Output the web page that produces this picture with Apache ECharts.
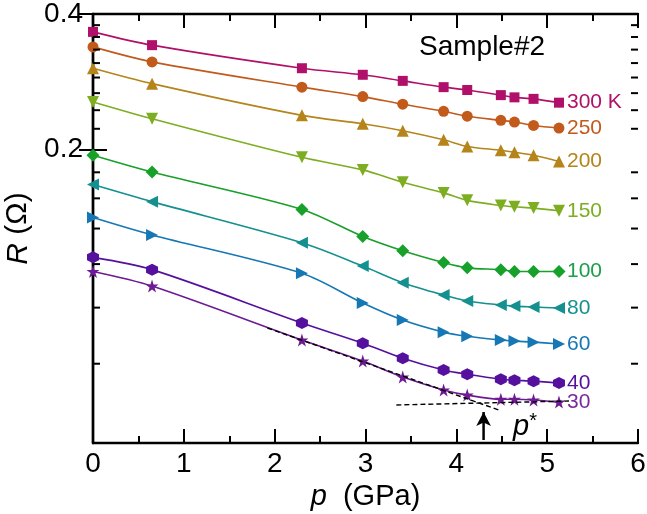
<!DOCTYPE html>
<html><head><meta charset="utf-8">
<script src="https://cdn.jsdelivr.net/npm/echarts@6/dist/echarts.min.js"></script>
<style>html,body{margin:0;padding:0;background:#fff}#c{width:647px;height:514px}</style>
</head><body><div id="c"></div>
<script>
const pressure = [0, 0.65, 2.3, 2.97, 3.41, 3.86, 4.12, 4.49, 4.64, 4.85, 5.13];
const tempLabels = ['300 K', '250', '200', '150', '100', '80', '60', '40', '30'];
const r300 = [0.365, 0.341, 0.303, 0.293, 0.284, 0.275, 0.271, 0.264, 0.261, 0.259, 0.254];
const r250 = [0.338, 0.313, 0.275, 0.262, 0.252, 0.243, 0.237, 0.232, 0.230, 0.226, 0.223];
const r200 = [0.303, 0.280, 0.238, 0.228, 0.220, 0.210, 0.203, 0.199, 0.197, 0.194, 0.188];
const r150 = [0.255, 0.234, 0.192, 0.180, 0.169, 0.160, 0.154, 0.150, 0.149, 0.148, 0.146];
const r100 = [0.194, 0.178, 0.147, 0.128, 0.119, 0.112, 0.109, 0.108, 0.107, 0.107, 0.107];
const r80  = [0.167, 0.153, 0.124, 0.110, 0.101, 0.0948, 0.0920, 0.0901, 0.0896, 0.0892, 0.0887];
const r60  = [0.141, 0.129, 0.106, 0.0910, 0.0834, 0.0784, 0.0768, 0.0753, 0.0749, 0.0745, 0.0738];
const r40  = [0.115, 0.108, 0.0822, 0.0741, 0.0686, 0.0646, 0.0632, 0.0616, 0.0613, 0.0610, 0.0604];
const r30  = [0.107, 0.0993, 0.0753, 0.0676, 0.0623, 0.0583, 0.0568, 0.0556, 0.0556, 0.0554, 0.0548];
const xTicks = [0, 1, 2, 3, 4, 5, 6];
const yMajorTicks = [0.2, 0.4];
const yMinorTicks = [0.0667, 0.0889, 0.1111, 0.1333, 0.1556, 0.1778, 0.2222, 0.2444, 0.2667, 0.2889, 0.3111, 0.3333, 0.3556, 0.3778];
const fitLineSteep = [[1.92, 0.0801], [4.47, 0.0526]];
const fitLineFlat = [[3.34, 0.0540], [5.24, 0.0551]];
const arrowLine = [[4.30, 0.0451], [4.30, 0.0521]];

const colors = ['#B0106A', '#C25A1C', '#B5841A', '#7DAE22', '#17A02A', '#13908F', '#1677B5', '#55119E', '#6E1A92'];
const labelColors = ['#B0106A', '#C25A1C', '#B5841A', '#7DAE22', '#1C9E4A', '#13908F', '#1677B5', '#55119E', '#7A2A9A'];
const STAR = 'path://M50,0 L61.8,35.4 L100,35.4 L69.1,57.3 L80.9,92.7 L50,70.8 L19.1,92.7 L30.9,57.3 L0,35.4 L38.2,35.4 Z';
const HEX = 'path://M50,0 L93.3,25 L93.3,75 L50,100 L6.7,75 L6.7,25 Z';
const symbols = [
  {s: 'rect', r: 0, z: 10}, {s: 'circle', r: 0, z: 11}, {s: 'triangle', r: 0, z: 12},
  {s: 'triangle', r: 180, z: 12}, {s: 'diamond', r: 0, z: 13}, {s: 'triangle', r: 90, z: 12},
  {s: 'triangle', r: -90, z: 12}, {s: HEX, r: 0, z: 12}, {s: STAR, r: 0, z: 13}
];
const allR = [r300, r250, r200, r150, r100, r80, r60, r40, r30];
const FONT = 'Liberation Sans';
const YMIN = 0.04444, YMAX = 0.4;

const series = allR.map((arr, i) => ({
  type: 'line',
  name: tempLabels[i],
  data: pressure.map((p, j) => [p, arr[j]]),
  smooth: 0.3,
  symbol: symbols[i].s,
  symbolRotate: symbols[i].r,
  symbolSize: symbols[i].z,
  showSymbol: true,
  color: colors[i],
  lineStyle: {width: 1.6, color: colors[i]},
  itemStyle: {color: colors[i]},
  endLabel: {show: true, formatter: tempLabels[i], color: labelColors[i], fontSize: 21, fontFamily: FONT, distance: 8},
  z: 3,
  animation: false
}));
series.push({
  type: 'line', data: fitLineSteep, symbol: 'none', z: 5, animation: false,
  lineStyle: {color: '#000', width: 1.4, type: [5, 3]}
});
series.push({
  type: 'line', data: fitLineFlat, symbol: 'none', z: 5, animation: false,
  lineStyle: {color: '#000', width: 1.4, type: [5, 3]}
});
series.push({
  type: 'line', animation: false, z: 6, showSymbol: true,
  data: [{value: arrowLine[0], symbol: 'none'}, {value: arrowLine[1], symbol: 'arrow', symbolSize: [11, 14]}],
  lineStyle: {color: '#000', width: 2.5}, itemStyle: {color: '#000'}
});
// minor ticks on the log y axis (both sides), positioned through the axis scale
series.push({
  type: 'custom', coordinateSystem: 'cartesian2d', silent: true, clip: false, animation: false, z: 8,
  data: yMinorTicks.map(v => [0, v]),
  renderItem: function (params, api) {
    const v = api.value(1);
    const pl = api.coord([0, v]);
    const pr = api.coord([6, v]);
    return {type: 'group', children: [
      {type: 'line', shape: {x1: pl[0], y1: pl[1], x2: pl[0] + 7, y2: pl[1]}, style: {stroke: '#000', lineWidth: 2}},
      {type: 'line', shape: {x1: pr[0] - 7, y1: pr[1], x2: pr[0], y2: pr[1]}, style: {stroke: '#000', lineWidth: 2}}
    ]};
  }
});

function yAx(pos, labels) {
  return {
    type: 'log', min: YMIN, max: YMAX, position: pos, logBase: 10,
    axisLine: {show: true, lineStyle: {color: '#000', width: 2.4}},
    axisTick: {show: true, inside: true, length: 14, customValues: yMajorTicks, lineStyle: {color: '#000', width: 2}},
    axisLabel: labels ? {show: true, customValues: yMajorTicks, color: '#000', fontSize: 28, fontFamily: FONT, margin: 10,
      formatter: v => String(Math.round(v * 10) / 10)} : {show: false},
    splitLine: {show: false}, minorTick: {show: false},
    name: labels ? '{i|R} (Ω)' : '',
    nameLocation: 'middle', nameGap: 54, nameRotate: 90,
    nameTextStyle: {fontSize: 30, fontFamily: FONT, color: '#000', rich: {i: {fontStyle: 'italic', fontSize: 30, fontFamily: FONT}}}
  };
}
function xAx(pos, labels) {
  return {
    type: 'value', min: 0, max: 6, interval: 1, position: pos,
    axisLine: {show: true, lineStyle: {color: '#000', width: 2.4}},
    axisTick: {show: true, inside: true, length: 14, lineStyle: {color: '#000', width: 2}},
    minorTick: {show: true, splitNumber: 2, length: 7, lineStyle: {color: '#000', width: 2}},
    axisLabel: labels ? {show: true, color: '#000', fontSize: 28, fontFamily: FONT, margin: 7,
      customValues: xTicks} : {show: false},
    splitLine: {show: false},
    name: labels ? '{i|p}  (GPa)' : '',
    nameLocation: 'middle', nameGap: 33,
    nameTextStyle: {fontSize: 29, fontFamily: FONT, color: '#000', rich: {i: {fontStyle: 'italic', fontSize: 29, fontFamily: FONT}}}
  };
}

const chart = echarts.init(document.getElementById('c'), null, {renderer: 'canvas'});
chart.setOption({
  backgroundColor: '#fff',
  animation: false,
  grid: {left: 93, right: 9, top: 14, bottom: 71, containLabel: false, outerBoundsMode: 'none'},
  xAxis: [xAx('bottom', true), xAx('top', false)],
  yAxis: [yAx('left', true), yAx('right', false)],
  series: series,
  graphic: [
    {type: 'text', left: 419, top: 33, style: {text: 'Sample#2', fontSize: 28, fontFamily: FONT, fill: '#000'}},
    {type: 'text', left: 513, top: 411, style: {text: '{i|p}{s|*}', fontFamily: FONT, fill: '#000',
      rich: {i: {fontStyle: 'italic', fontSize: 29, fontFamily: FONT}, s: {fontSize: 20, fontFamily: FONT, verticalAlign: 'top', padding: [0, 0, 12, 0]}}}}
  ]
});
</script></body></html>
